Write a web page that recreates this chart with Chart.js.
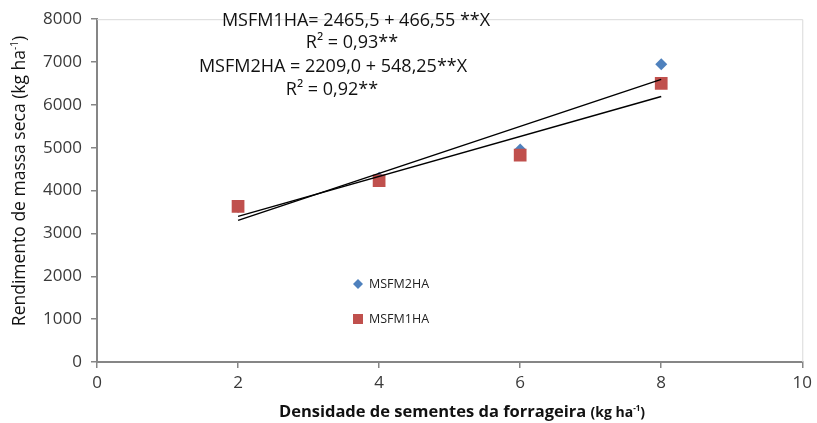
<!DOCTYPE html>
<html>
<head>
<meta charset="utf-8">
<script src="https://cdn.jsdelivr.net/npm/chart.js@4/dist/chart.umd.min.js"></script>
<style>
  html, body { margin: 0; padding: 0; background: #fff; }
  #wrap { width: 817px; height: 423px; }
</style>
</head>
<body>
<div id="wrap"><canvas id="c" width="817" height="423"></canvas></div>
<script>
// Seed density (kg/ha) and dry-mass yield (kg/ha) for the two harvests
const seedDensity = [2, 4, 6, 8];
const msfm2ha = [3620, 4300, 4960, 6950];
const msfm1ha = [3630, 4230, 4830, 6500];

// Fitted linear regressions (intercept, slope) as reported in the equations
const fitNames = ['MSFM1HA', 'MSFM2HA'];
const fitIntercepts = [2465.5, 2209.0];
const fitSlopes = [466.55, 548.25];
const fitRange = [2, 8];

const xTicks = [0, 2, 4, 6, 8, 10];
const yTicks = [0, 1000, 2000, 3000, 4000, 5000, 6000, 7000, 8000];

const equationLines = [
  'MSFM1HA= 2465,5 + 466,55 **X',
  'R² = 0,93**',
  'MSFM2HA = 2209,0 + 548,25**X',
  'R² = 0,92**'
];

const FONT = '"Open Sans", sans-serif';
const BLUE = '#4F81BD';
const RED = '#C0504D';
const AXIS = '#868686';
const TEXT = '#3a3a3a';

function pts(xs, ys) { return xs.map((x, i) => ({ x: x, y: ys[i] })); }
function fitLine(i) {
  return fitRange.map(x => ({ x: x, y: fitIntercepts[i] + fitSlopes[i] * x }));
}

// Draws text pieces in sequence; pieces may be superscripts
function drawRich(ctx, pieces, cx, cy) {
  let total = 0;
  pieces.forEach(p => { ctx.font = p.font; p.w = ctx.measureText(p.t).width; total += p.w; });
  let x = cx - total / 2;
  ctx.textAlign = 'left';
  ctx.textBaseline = 'alphabetic';
  pieces.forEach(p => {
    ctx.font = p.font;
    ctx.fillText(p.t, x, cy + (p.dy || 0));
    x += p.w;
  });
}

const decorations = {
  id: 'decorations',
  beforeDatasetsDraw(chart) {
    const { ctx, chartArea: a } = chart;
    ctx.save();
    ctx.strokeStyle = '#d9d9d9';
    ctx.lineWidth = 1;
    ctx.beginPath();
    ctx.moveTo(a.left, a.top + 0.5);
    ctx.lineTo(a.right + 0.5, a.top + 0.5);
    ctx.lineTo(a.right + 0.5, a.bottom);
    ctx.stroke();
    ctx.restore();
  },
  afterDraw(chart) {
    const { ctx } = chart;
    ctx.save();
    ctx.fillStyle = '#111';

    // Regression equations
    ctx.font = '18px ' + FONT;
    ctx.textAlign = 'center';
    ctx.textBaseline = 'middle';
    const eqPos = [[356, 21], [352, 43], [333, 67], [332, 90]];
    equationLines.forEach((s, i) => ctx.fillText(s, eqPos[i][0], eqPos[i][1]));

    // Legend
    const legend = [
      { label: 'MSFM2HA', color: BLUE, shape: 'diamond', y: 284 },
      { label: 'MSFM1HA', color: RED, shape: 'square', y: 319 }
    ];
    legend.forEach(l => {
      ctx.fillStyle = l.color;
      ctx.beginPath();
      if (l.shape === 'diamond') {
        ctx.moveTo(358, l.y - 5); ctx.lineTo(363, l.y); ctx.lineTo(358, l.y + 5); ctx.lineTo(353, l.y);
        ctx.closePath();
      } else {
        ctx.rect(353, l.y - 5, 10, 10);
      }
      ctx.fill();
      ctx.fillStyle = '#222';
      ctx.font = '12.5px ' + FONT;
      ctx.textAlign = 'left';
      ctx.textBaseline = 'middle';
      ctx.fillText(l.label, 369, l.y);
    });

    // X axis title
    ctx.fillStyle = '#111';
    drawRich(ctx, [
      { t: 'Densidade de sementes da forrageira ', font: 'bold 16.5px ' + FONT },
      { t: '(kg ha', font: 'bold 14px ' + FONT },
      { t: '-1', font: 'bold 8px ' + FONT, dy: -6 },
      { t: ')', font: 'bold 14px ' + FONT }
    ], 462, 417);

    // Y axis title
    ctx.translate(25, 181);
    ctx.rotate(-Math.PI / 2);
    drawRich(ctx, [
      { t: 'Rendimento de massa seca (kg ha', font: '17.5px ' + FONT },
      { t: '-1', font: '10px ' + FONT, dy: -7 },
      { t: ')', font: '17.5px ' + FONT }
    ], 0, 0);
    ctx.restore();
  }
};

new Chart(document.getElementById('c'), {
  type: 'scatter',
  data: {
    datasets: [
      {
        label: fitNames[0] + ' fit',
        data: fitLine(0),
        showLine: true,
        borderColor: '#000',
        borderWidth: 1.5,
        pointRadius: 0,
        order: 1
      },
      {
        label: fitNames[1] + ' fit',
        data: fitLine(1),
        showLine: true,
        borderColor: '#000',
        borderWidth: 1.5,
        pointRadius: 0,
        order: 1
      },
      {
        label: 'MSFM1HA',
        data: pts(seedDensity, msfm1ha),
        pointStyle: 'rect',
        pointRadius: 9,
        pointBackgroundColor: RED,
        pointBorderWidth: 0,
        order: 2
      },
      {
        label: 'MSFM2HA',
        data: pts(seedDensity, msfm2ha),
        pointStyle: 'rectRot',
        pointRadius: 6,
        pointBackgroundColor: BLUE,
        pointBorderWidth: 0,
        order: 3
      }
    ]
  },
  options: {
    responsive: false,
    animation: false,
    events: [],
    layout: { padding: { top: 17, right: 13, left: 0, bottom: 0 } },
    plugins: { legend: { display: false }, tooltip: { enabled: false } },
    scales: {
      x: {
        type: 'linear',
        min: 0, max: 10,
        afterBuildTicks: s => { s.ticks = xTicks.map(v => ({ value: v })); },
        afterFit: s => { s.height = 61; },
        border: { color: AXIS, width: 2 },
        grid: { drawOnChartArea: false, color: AXIS, tickLength: 6, lineWidth: 1.5 },
        ticks: { color: TEXT, padding: 5, font: { family: FONT, size: 17 }, callback: v => String(v) }
      },
      y: {
        type: 'linear',
        min: 0, max: 8000,
        afterBuildTicks: s => { s.ticks = yTicks.map(v => ({ value: v })); },
        afterFit: s => { s.width = 97; },
        border: { color: AXIS, width: 2 },
        grid: { drawOnChartArea: false, color: AXIS, tickLength: 6, lineWidth: 1.5 },
        ticks: { color: TEXT, padding: 9, font: { family: FONT, size: 17 }, callback: v => String(v) }
      }
    }
  },
  plugins: [decorations]
});
</script>
</body>
</html>
